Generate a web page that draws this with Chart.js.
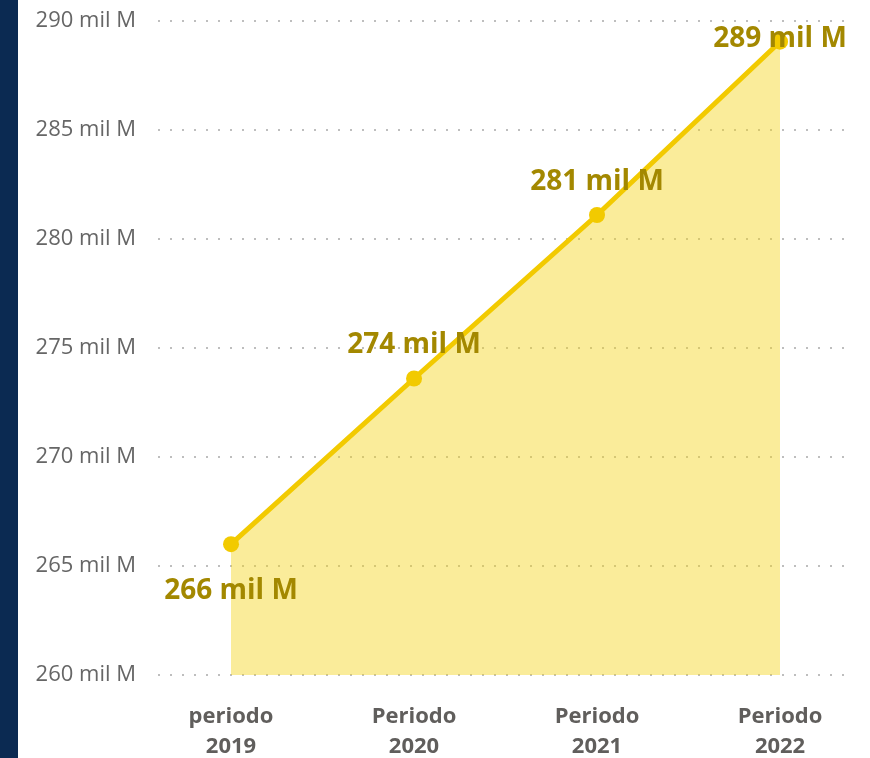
<!DOCTYPE html>
<html>
<head>
<meta charset="utf-8">
<script src="https://cdn.jsdelivr.net/npm/chart.js@4/dist/chart.umd.min.js"></script>
<style>
  html, body { margin: 0; padding: 0; background: #ffffff; }
  #wrap { position: relative; width: 870px; height: 758px; overflow: hidden; }
  #strip { position: absolute; left: 0; top: 0; width: 18px; height: 758px; background: #0B2A52; }
  #c { position: absolute; left: 0; top: 0; }
</style>
</head>
<body>
<div id="wrap">
  <div id="strip"></div>
  <canvas id="c" width="870" height="758"></canvas>
</div>
<script>
const categories = [["periodo", "2019"], ["Periodo", "2020"], ["Periodo", "2021"], ["Periodo", "2022"]];
const values = [266.0, 273.6, 281.1, 289.05];
const yTicks = [260, 265, 270, 275, 280, 285, 290];
const unitSuffix = " mil M";

const FONT = "'Open Sans', 'Noto Sans', sans-serif";

const labelPlugin = {
  id: 'pointLabels',
  afterDatasetsDraw(chart) {
    const ctx = chart.ctx;
    const meta = chart.getDatasetMeta(0);
    const area = chart.chartArea;
    ctx.save();
    ctx.font = "bold 28px " + FONT;
    ctx.fillStyle = "#A38800";
    ctx.textAlign = "center";
    ctx.textBaseline = "middle";
    meta.data.forEach((pt, i) => {
      const v = values[i];
      let y;
      if (i === 0) y = pt.y + 47;
      else y = Math.max(pt.y - 33, area.top + 18);
      ctx.fillText(Math.round(v) + unitSuffix, pt.x, y);
    });
    ctx.restore();
  }
};

new Chart(document.getElementById('c'), {
  type: 'line',
  data: {
    datasets: [{
      data: values.map((v, i) => ({ x: i, y: v })),
      borderColor: '#F2CA00',
      borderWidth: 5,
      backgroundColor: 'rgba(244,210,20,0.43)',
      fill: 'start',
      pointRadius: 8,
      pointHoverRadius: 8,
      pointBackgroundColor: '#F2CA00',
      pointBorderColor: '#F2CA00',
      pointBorderWidth: 0,
      tension: 0
    }]
  },
  options: {
    responsive: false,
    animation: false,
    events: [],
    layout: { padding: { top: 21, right: 25, left: 0, bottom: 0 } },
    plugins: { legend: { display: false }, tooltip: { enabled: false } },
    scales: {
      x: {
        type: 'linear',
        min: -0.399,
        max: 3.355,
        afterBuildTicks(scale) {
          scale.ticks = categories.map((c, i) => ({ value: i }));
        },
        afterFit(scale) { scale.height = 83; scale.paddingLeft = 0; scale.paddingRight = 0; },
        grid: { display: false, drawTicks: false },
        border: { display: false },
        ticks: {
          autoSkip: false,
          maxRotation: 0,
          padding: 27,
          color: '#605E5C',
          font: { family: FONT, size: 22, weight: 'bold', lineHeight: 1.36 },
          callback: (v) => categories[v]
        }
      },
      y: {
        min: 260,
        max: 290,
        afterBuildTicks(scale) {
          scale.ticks = yTicks.map(v => ({ value: v }));
        },
        afterFit(scale) { scale.width = 158; scale.paddingTop = 0; scale.paddingBottom = 0; },
        grid: {
          color: 'rgba(190,190,190,1)',
          lineWidth: 2,
          drawTicks: false
        },
        border: { display: false, dash: [2, 10] },
        ticks: {
          padding: 22,
          color: '#666666',
          font: { family: FONT, size: 22 },
          callback: (v) => v + unitSuffix
        }
      }
    }
  },
  plugins: [labelPlugin]
});
</script>
</body>
</html>
